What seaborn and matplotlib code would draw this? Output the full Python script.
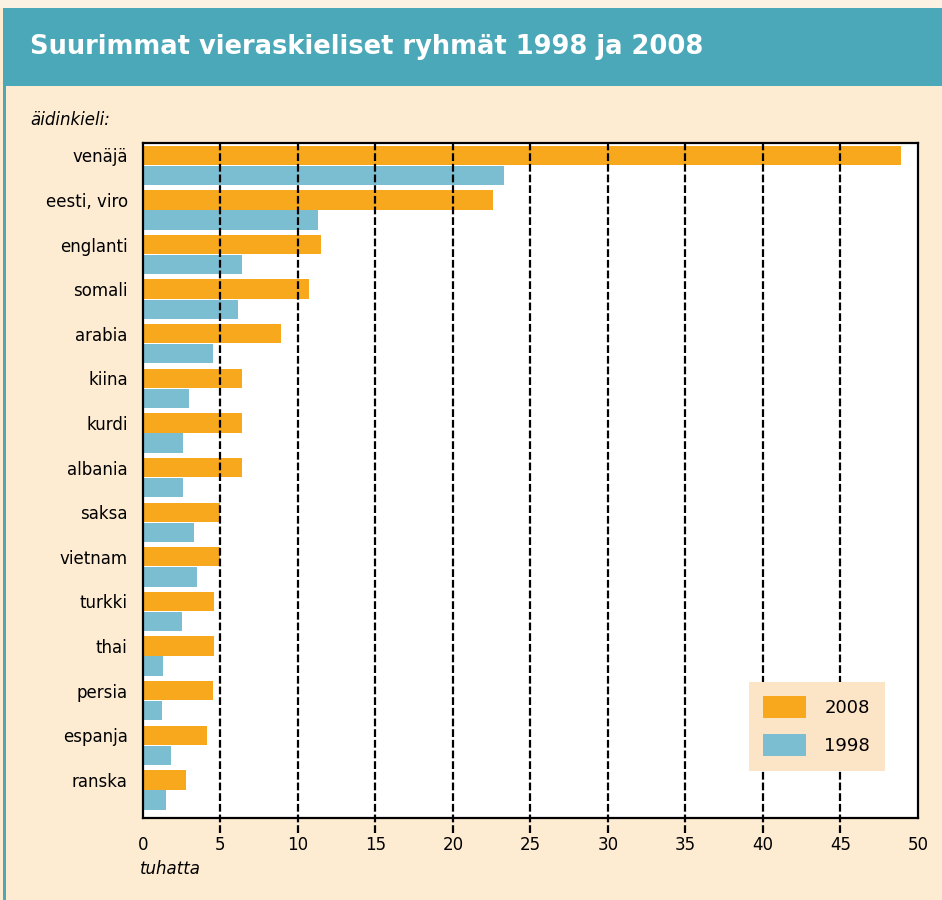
import numpy as np
import pandas as pd
import matplotlib.pyplot as plt
import seaborn as sns
from matplotlib.patches import Rectangle

# Data (thousands of speakers)
languages = ['venäjä', 'eesti, viro', 'englanti', 'somali', 'arabia', 'kiina', 'kurdi',
             'albania', 'saksa', 'vietnam', 'turkki', 'thai', 'persia', 'espanja', 'ranska']
values_2008 = [48.9, 22.6, 11.5, 10.7, 8.9, 6.4, 6.4, 6.4, 5.0, 5.0, 4.6, 4.6, 4.5, 4.1, 2.8]
values_1998 = [23.3, 11.3, 6.4, 6.1, 4.5, 3.0, 2.6, 2.6, 3.3, 3.5, 2.5, 1.3, 1.2, 1.8, 1.5]
years = ['2008', '1998']
x_ticks = [0, 5, 10, 15, 20, 25, 30, 35, 40, 45, 50]

df = pd.DataFrame({
    'kieli': languages * 2,
    'vuosi': [years[0]] * len(languages) + [years[1]] * len(languages),
    'tuhatta': values_2008 + values_1998,
})

orange = '#f7a81c'
blue = '#7bbdd1'
teal = '#4aa8b8'
cream = '#fdebd2'

sns.set_style('white')
plt.rcParams['font.family'] = ['DejaVu Sans']
plt.rcParams['text.color'] = 'black'
plt.rcParams['xtick.color'] = 'black'
plt.rcParams['ytick.color'] = 'black'

fig = plt.figure(figsize=(9.42, 9), dpi=100, facecolor=cream)

# title banner and frame
fig.patches.append(Rectangle((0, 0.991), 1, 0.009, transform=fig.transFigure,
                             facecolor='#fbf2e4', edgecolor='none', zorder=0))
fig.patches.append(Rectangle((0.0035, 0.9044), 1, 0.0867, transform=fig.transFigure,
                             facecolor=teal, edgecolor='none', zorder=0))
fig.patches.append(Rectangle((0.0035, 0), 0.003, 0.991, transform=fig.transFigure,
                             facecolor=teal, edgecolor='none', zorder=0))
fig.text(0.032, 0.948, 'Suurimmat vieraskieliset ryhmät 1998 ja 2008', color='white',
         fontsize=18.5, fontweight='bold', va='center', ha='left')

ax = fig.add_axes([0.1518, 0.0911, 0.8227, 0.75])
ax.set_facecolor('white')

sns.barplot(data=df, y='kieli', x='tuhatta', hue='vuosi', hue_order=years,
            palette=[orange, blue], orient='h', width=0.9, gap=0.04,
            saturation=1, linewidth=0, errorbar=None, ax=ax)

ax.set_xlim(0, 50)
ax.set_ylim(14.63, -0.5)
ax.set_xticks(x_ticks)
ax.set_xticklabels([str(t) for t in x_ticks], fontsize=12)
ax.set_yticks(np.arange(len(languages)) - 0.225)
ax.set_yticklabels(languages, fontsize=12)
ax.tick_params(axis='y', length=0, pad=11)
ax.tick_params(axis='x', length=0, pad=13)
ax.set_xlabel('')
ax.set_ylabel('')

# dashed grid lines, reaching a bit below the axis
for t in x_ticks[1:-1]:
    ax.axvline(t, ymin=-0.022, ymax=1, color='black', linewidth=1.6,
               linestyle=(0, (3.5, 1.3)), clip_on=False, zorder=5)

for s in ax.spines.values():
    s.set_visible(True)
    s.set_color('black')
    s.set_linewidth(1.6)
    s.set_zorder(6)

fig.text(0.032, 0.867, 'äidinkieli:', fontsize=12, style='italic', ha='left', va='center')
fig.text(0.149, 0.035, 'tuhatta', fontsize=12, style='italic', ha='left', va='center')

handles, labels = ax.get_legend_handles_labels()
leg = ax.legend(handles, labels, loc='lower right', bbox_to_anchor=(0.957, 0.07),
                fontsize=13, frameon=True, fancybox=False, handlelength=2.4,
                handleheight=1.5, handletextpad=1.0, labelspacing=0.9,
                borderpad=0.8, borderaxespad=0)
leg.get_frame().set_facecolor('#fce4c6')
leg.get_frame().set_edgecolor('none')
leg.get_frame().set_alpha(1)
leg.set_zorder(10)

fig.savefig('out.png', dpi=100, facecolor=cream)
